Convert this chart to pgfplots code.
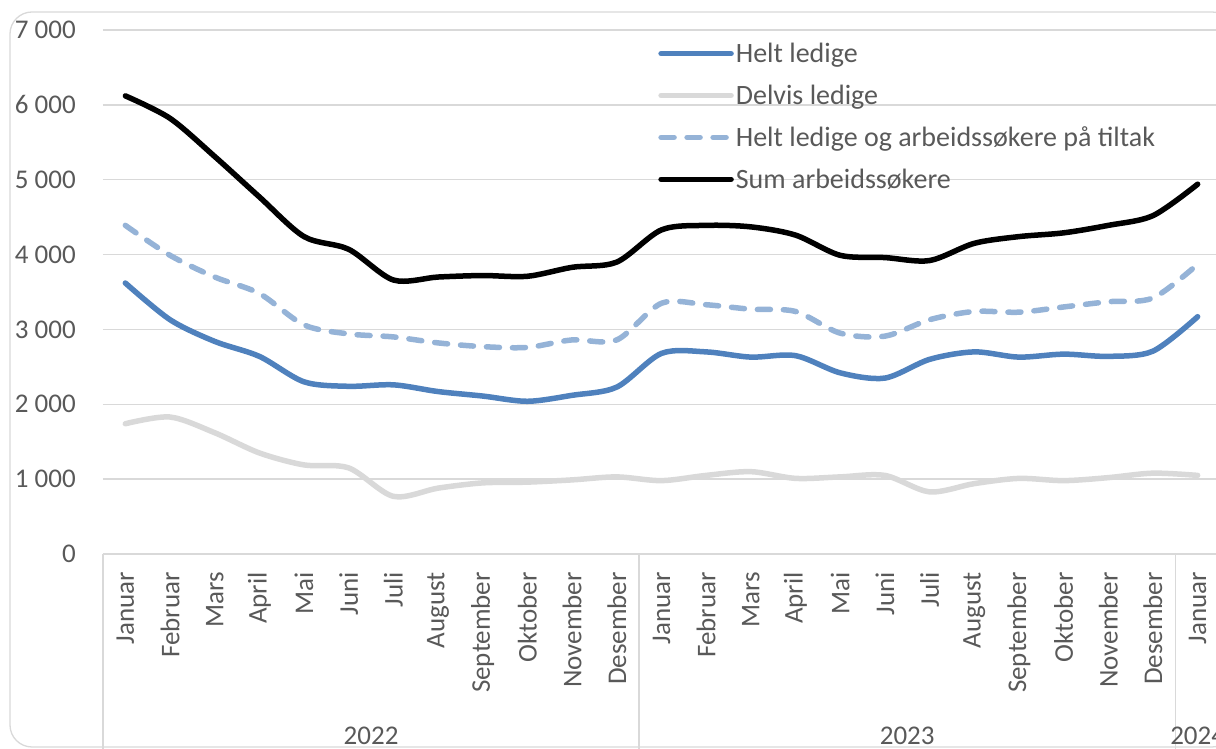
\documentclass[border=0pt]{standalone}
\usepackage{pgfplots}
\pgfplotsset{compat=1.18}
\usepackage{fontspec}
\setmainfont{Carlito}
\definecolor{txtgrey}{HTML}{595959}
\definecolor{gridgrey}{HTML}{D9D9D9}
\definecolor{hblue}{HTML}{4F81BD}
\definecolor{dblue}{HTML}{95B3D7}
\definecolor{lgrey}{HTML}{D9D9D9}
\begin{document}
\begin{tikzpicture}[x=1pt,y=1pt]
\useasboundingbox (0,0) rectangle (1216,749);
\draw[gridgrey, line width=1.3pt, rounded corners=22pt] (10,2) rectangle (1234,737);
\begin{axis}[
  at={(103pt,195pt)}, anchor=south west, scale only axis,
  width=1117pt, height=524pt,
  xmin=-0.5, xmax=24.5, ymin=0, ymax=7000,
  clip=false,
  axis lines=left,
  x axis line style={-, draw=gridgrey, line width=1.5pt},
  y axis line style={draw=none},
  ymajorgrids, grid style={gridgrey, line width=1.5pt},
  ytick={0,1000,2000,3000,4000,5000,6000,7000},
  yticklabels={0,1 000,2 000,3 000,4 000,5 000,6 000,7 000},
  xtick={0,...,24},
  xticklabels={Januar,Februar,Mars,April,Mai,Juni,Juli,August,September,Oktober,November,Desember,Januar,Februar,Mars,April,Mai,Juni,Juli,August,September,Oktober,November,Desember,Januar},
  major tick length=0pt,
  tick align=outside,
  extra x ticks={-0.5,11.5,23.5},
  extra x tick labels={},
  extra x tick style={major tick length=200pt, tick style={draw=gridgrey, line width=1.5pt}},
  yticklabel style={font=\fontsize{27}{32}\selectfont, text=txtgrey, anchor=east, inner sep=0pt, xshift=-27pt},
  xticklabel style={font=\fontsize{27}{32}\selectfont, text=txtgrey, rotate=90, anchor=east, inner sep=0pt},
  xticklabel shift=18pt,
  legend cell align=left,
  legend style={draw=none, fill=none, at={(0.497,0.979)}, anchor=north west,
    font=\fontsize{28}{33}\selectfont, text=txtgrey, inner sep=0pt, row sep=16.8pt,
    /tikz/every even column/.append style={column sep=4pt}},
  legend image code/.code={\draw[#1] (0pt,0pt) -- (70pt,0pt);},
  every axis plot/.append style={line width=5.5pt, smooth, tension=0.5, line cap=round, line join=round},
]
\addplot[hblue] coordinates {
(0,3620) (1,3130) (2,2840) (3,2640) (4,2300) (5,2240) (6,2260) (7,2170) (8,2110) (9,2040) (10,2120) (11,2230)
(12,2680) (13,2700) (14,2630) (15,2650) (16,2420) (17,2350) (18,2600) (19,2700) (20,2630) (21,2670) (22,2640) (23,2710) (24,3170)};
\addlegendentry{Helt ledige}
\addplot[lgrey] coordinates {
(0,1740) (1,1830) (2,1620) (3,1350) (4,1190) (5,1150) (6,770) (7,880) (8,950) (9,960) (10,990) (11,1030)
(12,980) (13,1050) (14,1100) (15,1010) (16,1030) (17,1050) (18,830) (19,940) (20,1010) (21,980) (22,1020) (23,1080) (24,1050)};
\addlegendentry{Delvis ledige}
\addplot[dblue, dash pattern=on 13pt off 13pt] coordinates {
(0,4390) (1,3990) (2,3700) (3,3480) (4,3060) (5,2940) (6,2900) (7,2820) (8,2770) (9,2760) (10,2860) (11,2860)
(12,3350) (13,3330) (14,3270) (15,3240) (16,2950) (17,2910) (18,3130) (19,3240) (20,3230) (21,3300) (22,3370) (23,3420) (24,3870)};
\addlegendentry{Helt ledige og arbeidssøkere på tiltak}
\addplot[black] coordinates {
(0,6120) (1,5820) (2,5310) (3,4770) (4,4240) (5,4070) (6,3660) (7,3700) (8,3720) (9,3710) (10,3830) (11,3900)
(12,4330) (13,4390) (14,4370) (15,4260) (16,3990) (17,3960) (18,3920) (19,4150) (20,4240) (21,4290) (22,4390) (23,4520) (24,4940)};
\addlegendentry{Sum arbeidssøkere}
\node[font=\fontsize{27}{32}\selectfont, text=txtgrey] at (axis cs:5.5,0) [yshift=-182pt] {2022};
\node[font=\fontsize{27}{32}\selectfont, text=txtgrey] at (axis cs:17.5,0) [yshift=-182pt] {2023};
\node[font=\fontsize{27}{32}\selectfont, text=txtgrey] at (axis cs:24,0) [yshift=-182pt] {2024};
\end{axis}
\end{tikzpicture}
\end{document}
